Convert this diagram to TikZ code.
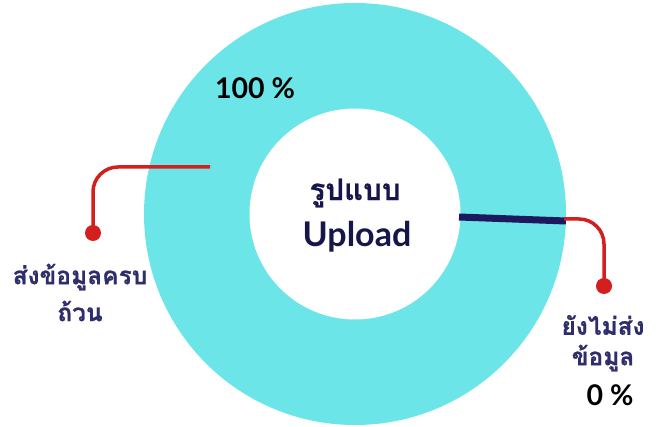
\documentclass[tikz,border=0pt]{standalone}
\usepackage{fontspec}
\newfontfamily\thaifont[Script=Thai,BoldFeatures={FakeBold=0.6}]{Loma}
\newfontfamily\latinfont{Lato}
\definecolor{ringcyan}{HTML}{6CE5E8}
\definecolor{barnavy}{HTML}{1C1A5E}
\definecolor{leadred}{HTML}{D41F1F}
\definecolor{labelnavy}{HTML}{2E2E6C}
\definecolor{centernavy}{HTML}{15174A}
\tikzset{
  leader/.style={draw=leadred, line width=3.5pt, rounded corners=25pt},
  leaddot/.style={circle, fill=leadred, inner sep=0pt, minimum size=16pt},
  thailabel/.style={font=\thaifont\bfseries\fontsize{24.5}{30}\selectfont, text=labelnavy, align=center, inner sep=0pt},
  pctlabel/.style={font=\latinfont\bfseries\fontsize{28.5}{32}\selectfont, text=black, inner sep=0pt},
}
\begin{document}
\begin{tikzpicture}[x=1pt,y=-1pt]
\useasboundingbox (0,0) rectangle (661,427);
% donut
\fill[ringcyan] (355,214) circle (211pt);
\fill[white] (355,214) circle (105.5pt);
% 0% slice
\coordinate (barin) at (459,217);
\coordinate (barout) at (566,221);
\draw[barnavy, line width=7pt] (barin) -- (barout);
% center text
\node[font=\thaifont\bfseries\fontsize{29.5}{32}\selectfont, text=centernavy, inner sep=0pt] (c1) at (355,193) {รูปแบบ};
\node[font=\latinfont\bfseries\fontsize{34}{36}\selectfont, text=centernavy, inner sep=0pt] (c2) at (357,237) {Upload};
% 100 %
\node[pctlabel] (p100) at (255,88) {100 \%};
% left leader
\coordinate (la) at (210,167);
\node[leaddot] (ldot) at (93,233) {};
\draw[leader] (la) -- (93,167) -- (ldot.center);
\node[thailabel] (l1) at (80,277) {ส่งข้อมูลครบ};
\node[thailabel] (l2) at (80,311) {ถ้วน};
% right leader
\coordinate (ra) at (564,219);
\node[leaddot] (rdot) at (604,286) {};
\draw[leader] (ra) -- (604,219) -- (rdot.center);
\node[thailabel] (r1) at (603,325) {ยังไม่ส่ง};
\node[thailabel] (r2) at (603,358) {ข้อมูล};
\node[pctlabel] (p0) at (610,395) {0 \%};
\end{tikzpicture}
\end{document}
